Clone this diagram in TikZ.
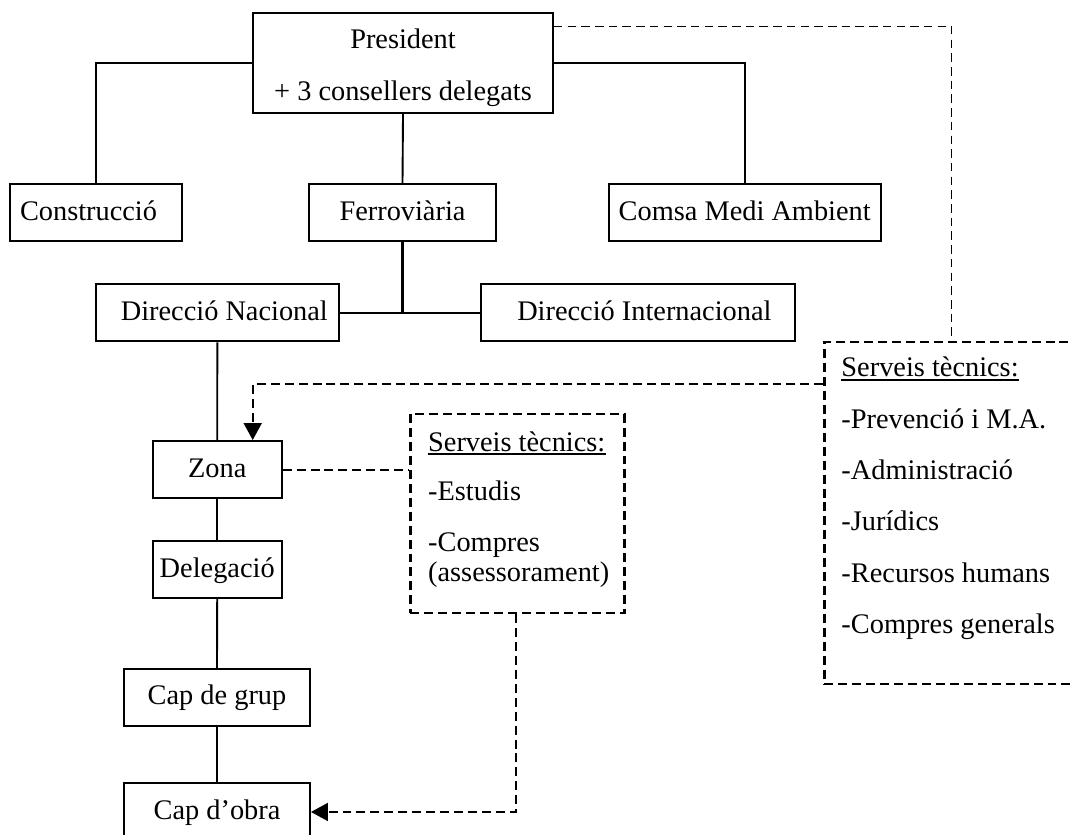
\documentclass[tikz,border=0pt]{standalone}
\usepackage{fontspec}
\setmainfont{Liberation Serif}
\usetikzlibrary{calc,arrows.meta}
\newlength\upx
\setlength\upx{0.4233pt}
\tikzset{
  every node/.style={font=\fontsize{12}{14.4}\selectfont},
  unitbox/.style={draw, line width=0.8pt, inner sep=0pt, minimum height=57.3\upx,
    text height=9pt, text depth=2.6pt},
  dbox/.style={draw, line width=1pt, dash pattern=on 3.8pt off 2.1pt, inner sep=0pt, anchor=north west},
  line/.style={line width=0.8pt},
  dline/.style={line width=0.8pt, dash pattern=on 3.8pt off 2.1pt},
  thindline/.style={line width=0.6pt, dash pattern=on 3.6pt off 2.2pt},
  tip/.style={-{Triangle[length=7.2pt,width=7.6pt]}},
  itemtext/.style={inner sep=0pt, anchor=base west},
  uline/.style={line width=0.7pt}
}
\begin{document}
\begin{tikzpicture}[x=1\upx, y=-1\upx]
\useasboundingbox (0,0) rectangle (1070,834);
\clip (0,0) rectangle (1070,834);

% top level
\node[unitbox, minimum width=300\upx, minimum height=100\upx, text height=33.92pt, text depth=2.6pt]
  (pres) at (403,63) {\begin{tabular}[b]{@{}c@{}}President\\[7.2pt]+ 3 consellers delegats\end{tabular}};

% divisions
\node[unitbox, minimum width=172\upx] (cons) at (96,212.5) {Construcció\hspace*{15\upx}};
\node[unitbox, minimum width=187\upx] (ferro) at (402.5,212.5) {Ferroviària};
\node[unitbox, minimum width=272\upx] (cmsa) at (744.7,212.5) {Comsa Medi Ambient};

% directions
\node[unitbox, minimum width=242.7\upx] (dnac) at (217.35,312.65) {\hspace*{14\upx}Direcció Nacional};
\node[unitbox, minimum width=314.3\upx] (dint) at (637.85,312.65) {\hspace*{13\upx}Direcció Internacional};

% chain of command
\node[unitbox, minimum width=129\upx] (zona) at (217.2,469.65) {Zona};
\node[unitbox, minimum width=129\upx] (deleg) at (217.2,569.5) {Delegació};
\node[unitbox, minimum width=186\upx] (capgrup) at (217,697.35) {Cap de grup};
\node[unitbox, minimum width=186\upx] (capobra) at (217,811.95) {Cap d’obra};

% technical services, central
\node[dbox, minimum width=271.7\upx, minimum height=341.7\upx] (stc) at (823.3,341) {};
\node[itemtext] (stch) at (841,376.7) {Serveis tècnics:};
\node[itemtext] (stc1) at (841,428.3) {-Prevenció i M.A.};
\node[itemtext] (stc2) at (841,479.3) {-Administració};
\node[itemtext] (stc3) at (841,530) {-Jurídics};
\node[itemtext] (stc4) at (841,582.7) {-Recursos humans};
\node[itemtext] (stc5) at (841,633.3) {-Compres generals};
\draw[uline] ($(stch.base west)+(0,3)$) -- ($(stch.base east)+(0,3)$);

% technical services, zone
\node[dbox, minimum width=214\upx, minimum height=199\upx] (stz) at (409.3,412.7) {};
\node[itemtext] (stzh) at (427.7,451) {Serveis tècnics:};
\node[itemtext] (stz1) at (427.7,500) {-Estudis};
\node[itemtext] (stz2) at (427.7,551) {-Compres};
\node[itemtext] (stz3) at (427.7,581) {(assessorament)};
\draw[uline] ($(stzh.base west)+(0,3)$) -- ($(stzh.base east)+(0,3)$);

% solid connectors
\draw[line] (pres.west) -| (cons.north);
\draw[line] (pres.east) -| (cmsa.north);
\draw[line] (pres.south) -- (ferro.north);
\draw[line width=1.1pt] (ferro.south) -- (ferro.south |- dnac.east);
\draw[line] (dnac.east) -- (dint.west);
\draw[line] (dnac.south) -- (zona.north);
\draw[line] (zona.south) -- (deleg.north);
\draw[line] (deleg.south) -- (capgrup.north);
\draw[line] (capgrup.south) -- (capobra.north);

% dashed connectors
\draw[thindline] ($(pres.north east)+(0,14.3)$) -| ($(stc.north west)+(128.4,0)$);
\draw[dline, tip] ($(stc.north west)+(0,43)$) -| ($(zona.north)+(35.5,0)$);
\draw[dline] (zona.east) -- (zona.east -| stz.west);
\draw[dline, tip] ($(stz.south west)+(106.7,0)$) |- (capobra.east);
\end{tikzpicture}
\end{document}
